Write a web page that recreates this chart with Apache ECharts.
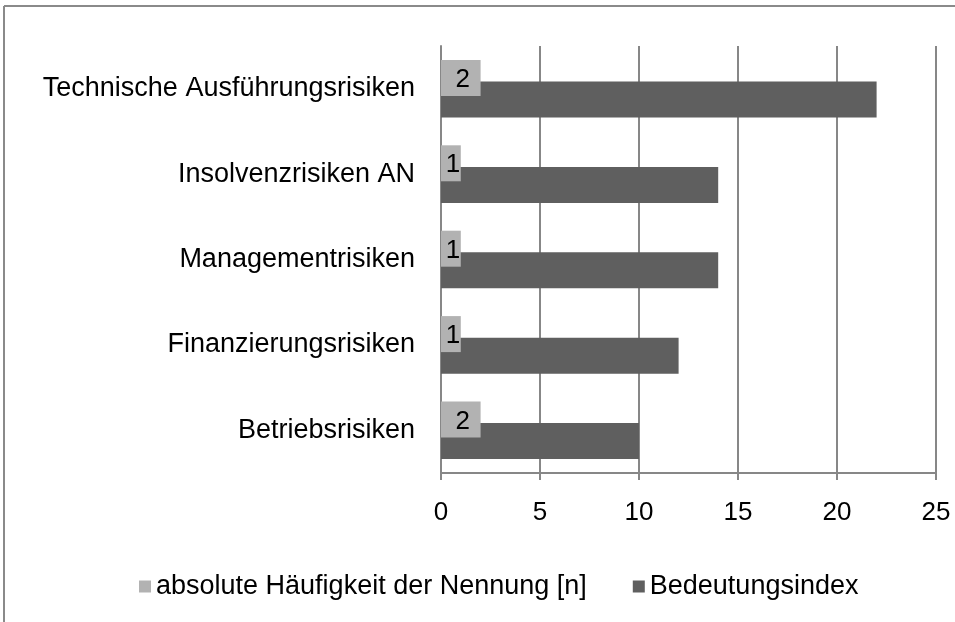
<!DOCTYPE html>
<html>
<head>
<meta charset="utf-8">
<script src="https://cdn.jsdelivr.net/npm/echarts@6/dist/echarts.min.js"></script>
<style>html,body{margin:0;padding:0;background:#fff}#c{width:955px;height:622px}</style>
</head>
<body>
<div id="c"></div>
<script>
const categories = ['Betriebsrisiken', 'Finanzierungsrisiken', 'Managementrisiken', 'Insolvenzrisiken AN', 'Technische Ausführungsrisiken'];
const haeufigkeit = [2, 1, 1, 1, 2];
const bedeutungsindex = [10, 12, 14, 14, 22];
const xTicks = [0, 5, 10, 15, 20, 25];
const seriesNames = ['absolute Häufigkeit der Nennung [n]', 'Bedeutungsindex'];

const FONT = '"Liberation Sans", Arial, sans-serif';
const GRAY = '#878787';
const chart = echarts.init(document.getElementById('c'), null, {renderer: 'canvas'});
chart.setOption({
  animation: false,
  backgroundColor: '#fff',
  textStyle: {fontFamily: FONT},
  grid: {left: 441, right: 19, top: 46, bottom: 149, containLabel: false},
  legend: {
    left: 134, top: 568,
    itemWidth: 12, itemHeight: 12, itemGap: 46,
    icon: 'rect',
    textStyle: {fontSize: 27, color: '#000', fontFamily: FONT, padding: [0, 0, 0, 0]},
    data: seriesNames
  },
  xAxis: {
    type: 'value', min: xTicks[0], max: xTicks[xTicks.length - 1], interval: 5,
    axisLine: {show: true, lineStyle: {color: GRAY, width: 2}},
    axisTick: {show: true, length: 7, lineStyle: {color: GRAY, width: 2}},
    splitLine: {show: true, lineStyle: {color: GRAY, width: 2}},
    axisLabel: {fontSize: 26, color: '#000', margin: 27, fontFamily: FONT}
  },
  yAxis: {
    type: 'category', data: categories,
    axisLine: {show: true, lineStyle: {color: GRAY, width: 2}},
    axisTick: {show: false},
    axisLabel: {fontSize: 27, color: '#000', margin: 26, fontFamily: FONT}
  },
  series: [
    {
      name: seriesNames[0], type: 'bar', data: haeufigkeit,
      barWidth: 36, barGap: '-40%', z: 3,
      itemStyle: {color: '#b2b2b2'},
      label: {show: true, position: 'inside', color: '#000', fontSize: 26, fontFamily: FONT, offset: [2, 2]}
    },
    {
      name: seriesNames[1], type: 'bar', data: bedeutungsindex,
      barWidth: 36, barGap: '-40%', z: 2,
      itemStyle: {color: '#5f5f5f'}
    }
  ],
  graphic: [
    {type: 'line', shape: {x1: 4, y1: 6, x2: 955, y2: 6}, style: {stroke: '#8a8a8a', lineWidth: 2}},
    {type: 'line', shape: {x1: 4, y1: 6, x2: 4, y2: 622}, style: {stroke: '#8a8a8a', lineWidth: 2}}
  ]
});
</script>
</body>
</html>
